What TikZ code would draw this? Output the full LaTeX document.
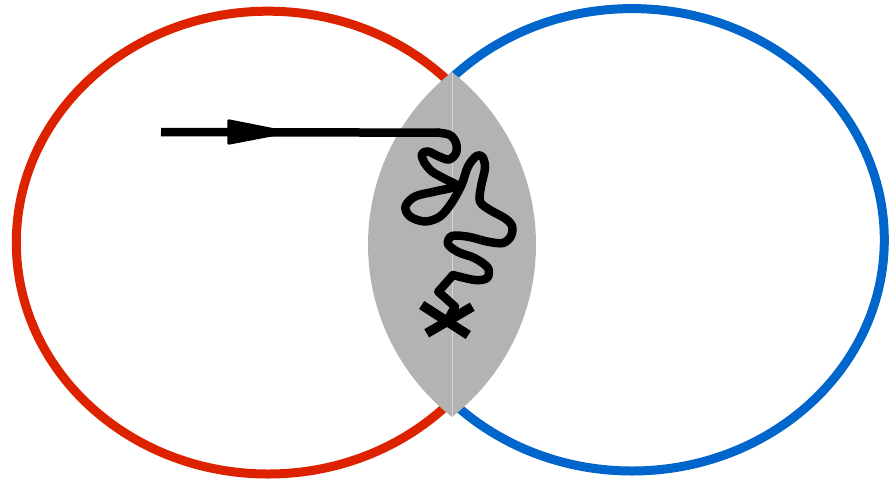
\documentclass[tikz,border=0pt]{standalone}
\definecolor{ringred}{RGB}{221,34,0}
\definecolor{ringblue}{RGB}{0,102,204}
\definecolor{lensgray}{RGB}{179,179,179}
\definecolor{seamgray}{RGB}{214,214,214}
\tikzset{
  ring/.style={line width=9pt},
  wire/.style={line width=8.5pt, line cap=round, line join=round},
  cross/.style={line width=9.5pt, line cap=butt},
}
\begin{document}
\begin{tikzpicture}[x=1pt,y=-1pt]
\useasboundingbox (0,0) rectangle (893,479);

% the two overlapping rings
\draw[ring, ringred]  (268,242.6) ellipse [x radius=251.7pt, y radius=231.4pt];
\draw[ring, ringblue] (632,239.8) ellipse [x radius=252.3pt, y radius=231.2pt];

% shaded overlap region (intersection of two circles)
\begin{scope}
  \clip (587,244.5) circle (219pt);
  \fill[lensgray] (317,244.5) circle (219pt);
\end{scope}
\coordinate (lenstop) at (452,72.5);
\coordinate (lensbot) at (452,416.5);
\draw[seamgray, line width=0.8pt] (lenstop) -- (lensbot);

% incoming line with arrowhead
\coordinate (start) at (161,132);
\coordinate (hook) at (440,132.7);
\draw[line width=8.5pt, line cap=butt] (start) -- (hook);
\fill[rounded corners=1.5pt] (227.3,119) -- (294,132.2) -- (227.3,145) -- cycle;

% random walk ending at the cross
\coordinate (kink) at (453,275);
\coordinate (xmid) at (447.5,320);
\draw[wire] plot[smooth, tension=0.55] coordinates {
  (438,132.7) (450,135) (456,143) (456,153) (449,159.5) (439,156.5)
  (428,151.5) (422,154) (424,162) (432,171.5) (445,179) (456.5,186)
  (435,191.5) (415,196.5) (405.5,206.5) (410,216.5) (425,221.5)
  (440,216.5) (451.5,203) (461.5,185) (468,166.5) (476.5,156)
  (482.5,157) (485,168) (481,186.5) (480,201.5) (490,210) (505,218.3)
  (512,226) (511,236) (503,243) (488,241.7) (468,236.7) (452,236)
  (448,244) (458,252) (475,258.3) (488,268) (487,278) (475,280)
  (453,275)};
\draw[wire, line cap=butt] (kink) -- (438.3,291.7) -- (455,306.7) -- (xmid);

% cross mark
\draw[cross] (421.7,305) -- (468.3,335);
\draw[cross] (426.7,333.3) -- (472.3,306.7);
\end{tikzpicture}
\end{document}
